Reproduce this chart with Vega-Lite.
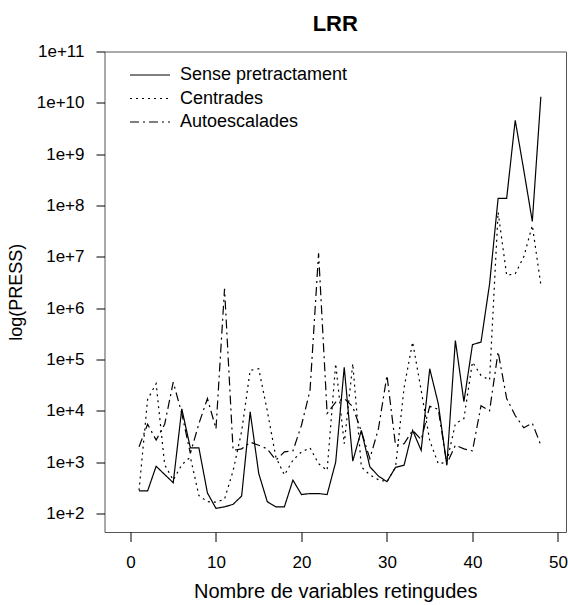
{
  "$schema": "https://vega.github.io/schema/vega-lite/v6.json",
  "width": 461.5,
  "height": 480.5,
  "autosize": {"type": "none"},
  "padding": {"left": 104.5, "top": 51.5, "right": 2, "bottom": 73},
  "title": {"text": "LRR", "fontSize": 22, "fontWeight": "bold", "font": "Liberation Sans", "offset": 7, "anchor": "middle", "color": "black"},
  "config": {
    "view": {"stroke": "#555", "strokeWidth": 1},
    "font": "Liberation Sans",
    "axis": {"domain": false, "grid": false, "tickColor": "black", "labelColor": "black", "titleColor": "black", "labelFont": "Liberation Sans", "titleFont": "Liberation Sans", "titleFontWeight": "normal"}
  },
  "data": {"values": [
    {"k":1,"s":"Sense pretractament","v":275},{"k":2,"s":"Sense pretractament","v":275},{"k":3,"s":"Sense pretractament","v":832},{"k":4,"s":"Sense pretractament","v":575},{"k":5,"s":"Sense pretractament","v":398},{"k":6,"s":"Sense pretractament","v":10965},{"k":7,"s":"Sense pretractament","v":1905},{"k":8,"s":"Sense pretractament","v":1905},{"k":9,"s":"Sense pretractament","v":251},{"k":10,"s":"Sense pretractament","v":126},{"k":11,"s":"Sense pretractament","v":135},{"k":12,"s":"Sense pretractament","v":151},{"k":13,"s":"Sense pretractament","v":219},{"k":14,"s":"Sense pretractament","v":9550},{"k":15,"s":"Sense pretractament","v":603},{"k":16,"s":"Sense pretractament","v":170},{"k":17,"s":"Sense pretractament","v":135},{"k":18,"s":"Sense pretractament","v":135},{"k":19,"s":"Sense pretractament","v":447},{"k":20,"s":"Sense pretractament","v":234},{"k":21,"s":"Sense pretractament","v":245},{"k":22,"s":"Sense pretractament","v":245},{"k":23,"s":"Sense pretractament","v":234},{"k":24,"s":"Sense pretractament","v":1000},{"k":25,"s":"Sense pretractament","v":70795},{"k":26,"s":"Sense pretractament","v":1047},{"k":27,"s":"Sense pretractament","v":4169},{"k":28,"s":"Sense pretractament","v":813},{"k":29,"s":"Sense pretractament","v":537},{"k":30,"s":"Sense pretractament","v":417},{"k":31,"s":"Sense pretractament","v":794},{"k":32,"s":"Sense pretractament","v":871},{"k":33,"s":"Sense pretractament","v":4169},{"k":34,"s":"Sense pretractament","v":1698},{"k":35,"s":"Sense pretractament","v":66069},{"k":36,"s":"Sense pretractament","v":13804},{"k":37,"s":"Sense pretractament","v":871},{"k":38,"s":"Sense pretractament","v":234423},{"k":39,"s":"Sense pretractament","v":15136},{"k":40,"s":"Sense pretractament","v":194984},{"k":41,"s":"Sense pretractament","v":218776},{"k":42,"s":"Sense pretractament","v":2951209},{"k":43,"s":"Sense pretractament","v":138038426},{"k":44,"s":"Sense pretractament","v":138038426},{"k":45,"s":"Sense pretractament","v":4570881896},{"k":46,"s":"Sense pretractament","v":489778819},{"k":47,"s":"Sense pretractament","v":48977882},{"k":48,"s":"Sense pretractament","v":13182567386},
    {"k":1,"s":"Centrades","v":282},{"k":2,"s":"Centrades","v":16596},{"k":3,"s":"Centrades","v":33884},{"k":4,"s":"Centrades","v":891},{"k":5,"s":"Centrades","v":447},{"k":6,"s":"Centrades","v":891},{"k":7,"s":"Centrades","v":1259},{"k":8,"s":"Centrades","v":224},{"k":9,"s":"Centrades","v":170},{"k":10,"s":"Centrades","v":166},{"k":11,"s":"Centrades","v":191},{"k":12,"s":"Centrades","v":676},{"k":13,"s":"Centrades","v":3981},{"k":14,"s":"Centrades","v":61660},{"k":15,"s":"Centrades","v":66069},{"k":16,"s":"Centrades","v":10000},{"k":17,"s":"Centrades","v":1259},{"k":18,"s":"Centrades","v":562},{"k":19,"s":"Centrades","v":1096},{"k":20,"s":"Centrades","v":1585},{"k":21,"s":"Centrades","v":1905},{"k":22,"s":"Centrades","v":933},{"k":23,"s":"Centrades","v":692},{"k":24,"s":"Centrades","v":83176},{"k":25,"s":"Centrades","v":2291},{"k":26,"s":"Centrades","v":83176},{"k":27,"s":"Centrades","v":813},{"k":28,"s":"Centrades","v":562},{"k":29,"s":"Centrades","v":457},{"k":30,"s":"Centrades","v":417},{"k":31,"s":"Centrades","v":794},{"k":32,"s":"Centrades","v":28184},{"k":33,"s":"Centrades","v":218776},{"k":34,"s":"Centrades","v":25119},{"k":35,"s":"Centrades","v":2630},{"k":36,"s":"Centrades","v":933},{"k":37,"s":"Centrades","v":1000},{"k":38,"s":"Centrades","v":5623},{"k":39,"s":"Centrades","v":7079},{"k":40,"s":"Centrades","v":89125},{"k":41,"s":"Centrades","v":48978},{"k":42,"s":"Centrades","v":39811},{"k":43,"s":"Centrades","v":74131024},{"k":44,"s":"Centrades","v":4365158},{"k":45,"s":"Centrades","v":4677351},{"k":46,"s":"Centrades","v":10000000},{"k":47,"s":"Centrades","v":40738028},{"k":48,"s":"Centrades","v":2818383},
    {"k":1,"s":"Autoescalades","v":1995},{"k":2,"s":"Autoescalades","v":5495},{"k":3,"s":"Autoescalades","v":2692},{"k":4,"s":"Autoescalades","v":5495},{"k":5,"s":"Autoescalades","v":36308},{"k":6,"s":"Autoescalades","v":8913},{"k":7,"s":"Autoescalades","v":1479},{"k":8,"s":"Autoescalades","v":5623},{"k":9,"s":"Autoescalades","v":17378},{"k":10,"s":"Autoescalades","v":4467},{"k":11,"s":"Autoescalades","v":2398833},{"k":12,"s":"Autoescalades","v":1698},{"k":13,"s":"Autoescalades","v":1820},{"k":14,"s":"Autoescalades","v":2455},{"k":15,"s":"Autoescalades","v":2138},{"k":16,"s":"Autoescalades","v":1820},{"k":17,"s":"Autoescalades","v":1096},{"k":18,"s":"Autoescalades","v":1585},{"k":19,"s":"Autoescalades","v":1660},{"k":20,"s":"Autoescalades","v":5248},{"k":21,"s":"Autoescalades","v":25119},{"k":22,"s":"Autoescalades","v":11748976},{"k":23,"s":"Autoescalades","v":8913},{"k":24,"s":"Autoescalades","v":14791},{"k":25,"s":"Autoescalades","v":17378},{"k":26,"s":"Autoescalades","v":12023},{"k":27,"s":"Autoescalades","v":3981},{"k":28,"s":"Autoescalades","v":1175},{"k":29,"s":"Autoescalades","v":4467},{"k":30,"s":"Autoescalades","v":48978},{"k":31,"s":"Autoescalades","v":2138},{"k":32,"s":"Autoescalades","v":2291},{"k":33,"s":"Autoescalades","v":4169},{"k":34,"s":"Autoescalades","v":2754},{"k":35,"s":"Autoescalades","v":12303},{"k":36,"s":"Autoescalades","v":10715},{"k":37,"s":"Autoescalades","v":933},{"k":38,"s":"Autoescalades","v":2138},{"k":39,"s":"Autoescalades","v":1820},{"k":40,"s":"Autoescalades","v":1660},{"k":41,"s":"Autoescalades","v":12589},{"k":42,"s":"Autoescalades","v":10000},{"k":43,"s":"Autoescalades","v":141254},{"k":44,"s":"Autoescalades","v":17378},{"k":45,"s":"Autoescalades","v":8128},{"k":46,"s":"Autoescalades","v":4677},{"k":47,"s":"Autoescalades","v":5754},{"k":48,"s":"Autoescalades","v":2138}
  ]},
  "mark": {"type": "line", "color": "black", "strokeWidth": 1.2},
  "encoding": {
    "x": {
      "field": "k", "type": "quantitative",
      "scale": {"domain": [-3.04, 50.94], "nice": false, "zero": false},
      "axis": {"values": [0, 10, 20, 30, 40, 50], "tickSize": 9.5, "labelFontSize": 17, "labelPadding": 13, "title": "Nombre de variables retingudes", "titleFontSize": 20, "titlePadding": 11}
    },
    "y": {
      "field": "v", "type": "quantitative",
      "scale": {"type": "log", "domain": [43.65, 100000000000], "nice": false},
      "axis": {"values": [100, 1000, 10000, 100000, 1000000, 10000000, 100000000, 1000000000, 10000000000, 100000000000], "labelExpr": "'1e+' + round(log(datum.value) / LN10)", "tickSize": 8.5, "labelFontSize": 17, "labelPadding": 12, "title": "log(PRESS)", "titleFontSize": 18, "titlePadding": 11}
    },
    "strokeDash": {
      "field": "s", "type": "nominal",
      "scale": {"domain": ["Sense pretractament", "Centrades", "Autoescalades"], "range": [[1, 0], [2, 4], [9, 4, 2, 4]]},
      "legend": {"title": null, "orient": "none", "legendX": 34.5, "legendY": 12.5, "padding": 0, "symbolType": "M-2,0H2", "symbolSize": 400, "symbolStrokeColor": "black", "symbolFillColor": "transparent", "symbolStrokeWidth": 1.2, "labelFontSize": 18, "labelColor": "black", "labelOffset": 19, "labelLimit": 0, "rowPadding": 3.5}
    }
  }
}
